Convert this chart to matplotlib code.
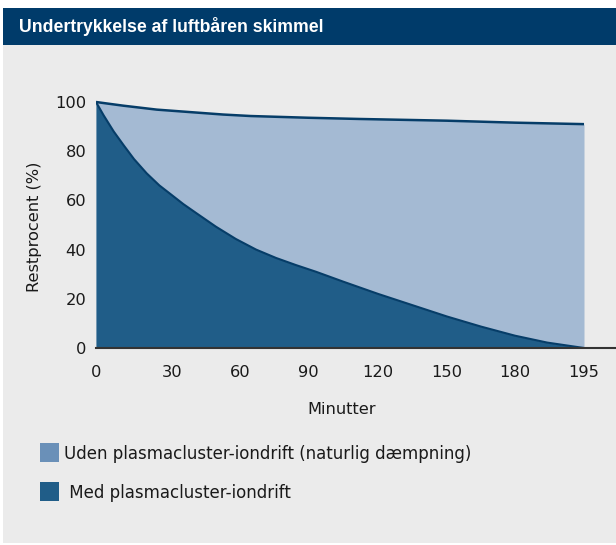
import numpy as np
import matplotlib
matplotlib.use("Agg")
import matplotlib.pyplot as plt
from matplotlib.patches import Rectangle

# ---------------- data ----------------
title = "Undertrykkelse af luftbåren skimmel"
x_label = "Minutter"
y_label = "Restprocent (%)"
tick_minutes = [0, 30, 60, 90, 120, 150, 180, 195]
y_ticks = [0, 20, 40, 60, 80, 100]

series_labels = ["Uden plasmacluster-iondrift (naturlig dæmpning)",
                 " Med plasmacluster-iondrift"]

without_minutes = [0, 5, 10.8, 24, 37.9, 52.6, 64.7, 90, 112, 150, 180, 195]
without_values = [100, 99.3, 98.5, 96.9, 95.9, 94.9, 94.3, 93.6, 93.1, 92.4, 91.6, 91.0]

with_minutes = [0, 3, 7, 11, 15, 20, 25, 30, 35, 40.6, 49.4, 58.2, 67.1, 75.9, 84.7,
                93.4, 105, 120, 135, 150, 165, 180, 187, 195]
with_values = [100, 94.6, 88.0, 82.3, 76.8, 71.0, 66.1, 62.1, 58.5, 54.9, 49.3, 44.3,
               40.0, 36.6, 33.7, 31.0, 27.0, 22.0, 17.4, 12.8, 8.7, 5.0, 2.2, 0]

# ---------------- style / layout ----------------
W, H = 616, 545
header_col = "#003b6a"
panel_col = "#ebebeb"
light_fill = "#a4bad3"
dark_fill = "#205d88"
line_col = "#063d68"
legend_cols = ["#6a90b8", "#205d88"]
text_col = "#1a1a1a"
FONT = "DejaVu Sans"
# horizontal spacing of the (unevenly spaced) category ticks, in pixels
tick_offsets_px = [0, 76, 144, 212, 282, 351, 419, 488]

plt.rcParams['font.family'] = [FONT]

fig = plt.figure(figsize=(W / 100, H / 100), dpi=100)
fig.patch.set_facecolor("white")


def fx(px):
    return px / W


def fy(py):
    return 1 - py / H


# gray panel and header
fig.patches.append(Rectangle((fx(3), fy(543)), fx(613), (543 - 45) / H,
                             transform=fig.transFigure, facecolor=panel_col,
                             edgecolor="none", zorder=-10))
fig.patches.append(Rectangle((fx(3), fy(45)), fx(613), 37 / H,
                             transform=fig.transFigure, facecolor=header_col,
                             edgecolor="none", zorder=-10))
fig.text(fx(19), fy(26.5), title, color="white", fontsize=12.7,
         fontweight="bold", family="Liberation Sans", ha="left", va="center")

# axes
ax_left, ax_right = 96, 616
ax_bottom, ax_top = 348, 89.7
ax = fig.add_axes([fx(ax_left), fy(ax_bottom), (ax_right - ax_left) / W,
                   (ax_bottom - ax_top) / H])
ax.set_zorder(5)
ax.set_facecolor("none")

tick_pos = np.array(tick_offsets_px, dtype=float)


def to_pos(m):
    return np.interp(m, tick_minutes, tick_pos)


xw = to_pos(without_minutes)
xm = to_pos(with_minutes)

ax.fill_between(xw, 0, without_values, color=light_fill, linewidth=0, zorder=1)
ax.fill_between(xm, 0, with_values, color=dark_fill, linewidth=0, zorder=2)
ax.plot(xw, without_values, color=line_col, lw=1.8, zorder=3,
        solid_joinstyle="round", solid_capstyle="butt")
ax.plot(xm, with_values, color=line_col, lw=1.5, zorder=3,
        solid_joinstyle="round", solid_capstyle="butt")

ax.set_xlim(0, ax_right - ax_left)
ax.set_ylim(0, (ax_bottom - ax_top) / 2.46)

ax.set_xticks(tick_pos)
ax.set_xticklabels([str(m) for m in tick_minutes])
ax.set_yticks(y_ticks)
ax.tick_params(axis="both", length=0, labelsize=11.7, colors=text_col)
ax.tick_params(axis="x", pad=12)
ax.tick_params(axis="y", pad=7)

for s in ["top", "right", "left"]:
    ax.spines[s].set_visible(False)
ax.spines["bottom"].set_color("#333333")
ax.spines["bottom"].set_linewidth(1.5)
ax.spines["bottom"].set_zorder(4)

fig.text(fx(342), fy(409), x_label, fontsize=11.7, color=text_col,
         ha="center", va="center")
fig.text(fx(34), fy(227), y_label, fontsize=11.7, color=text_col,
         ha="center", va="center", rotation=90)

# legend
leg_rows = [(442.7, 64), (481.7, 64)]
for (top, tx), lab, col in zip(leg_rows, series_labels, legend_cols):
    fig.patches.append(Rectangle((fx(40), fy(top + 19)), fx(19), 19 / H,
                                 transform=fig.transFigure, facecolor=col,
                                 edgecolor="none"))
    fig.text(fx(tx), fy(top + 11), lab, fontsize=12, color=text_col,
             ha="left", va="center")

fig.savefig("out.png", dpi=100)
